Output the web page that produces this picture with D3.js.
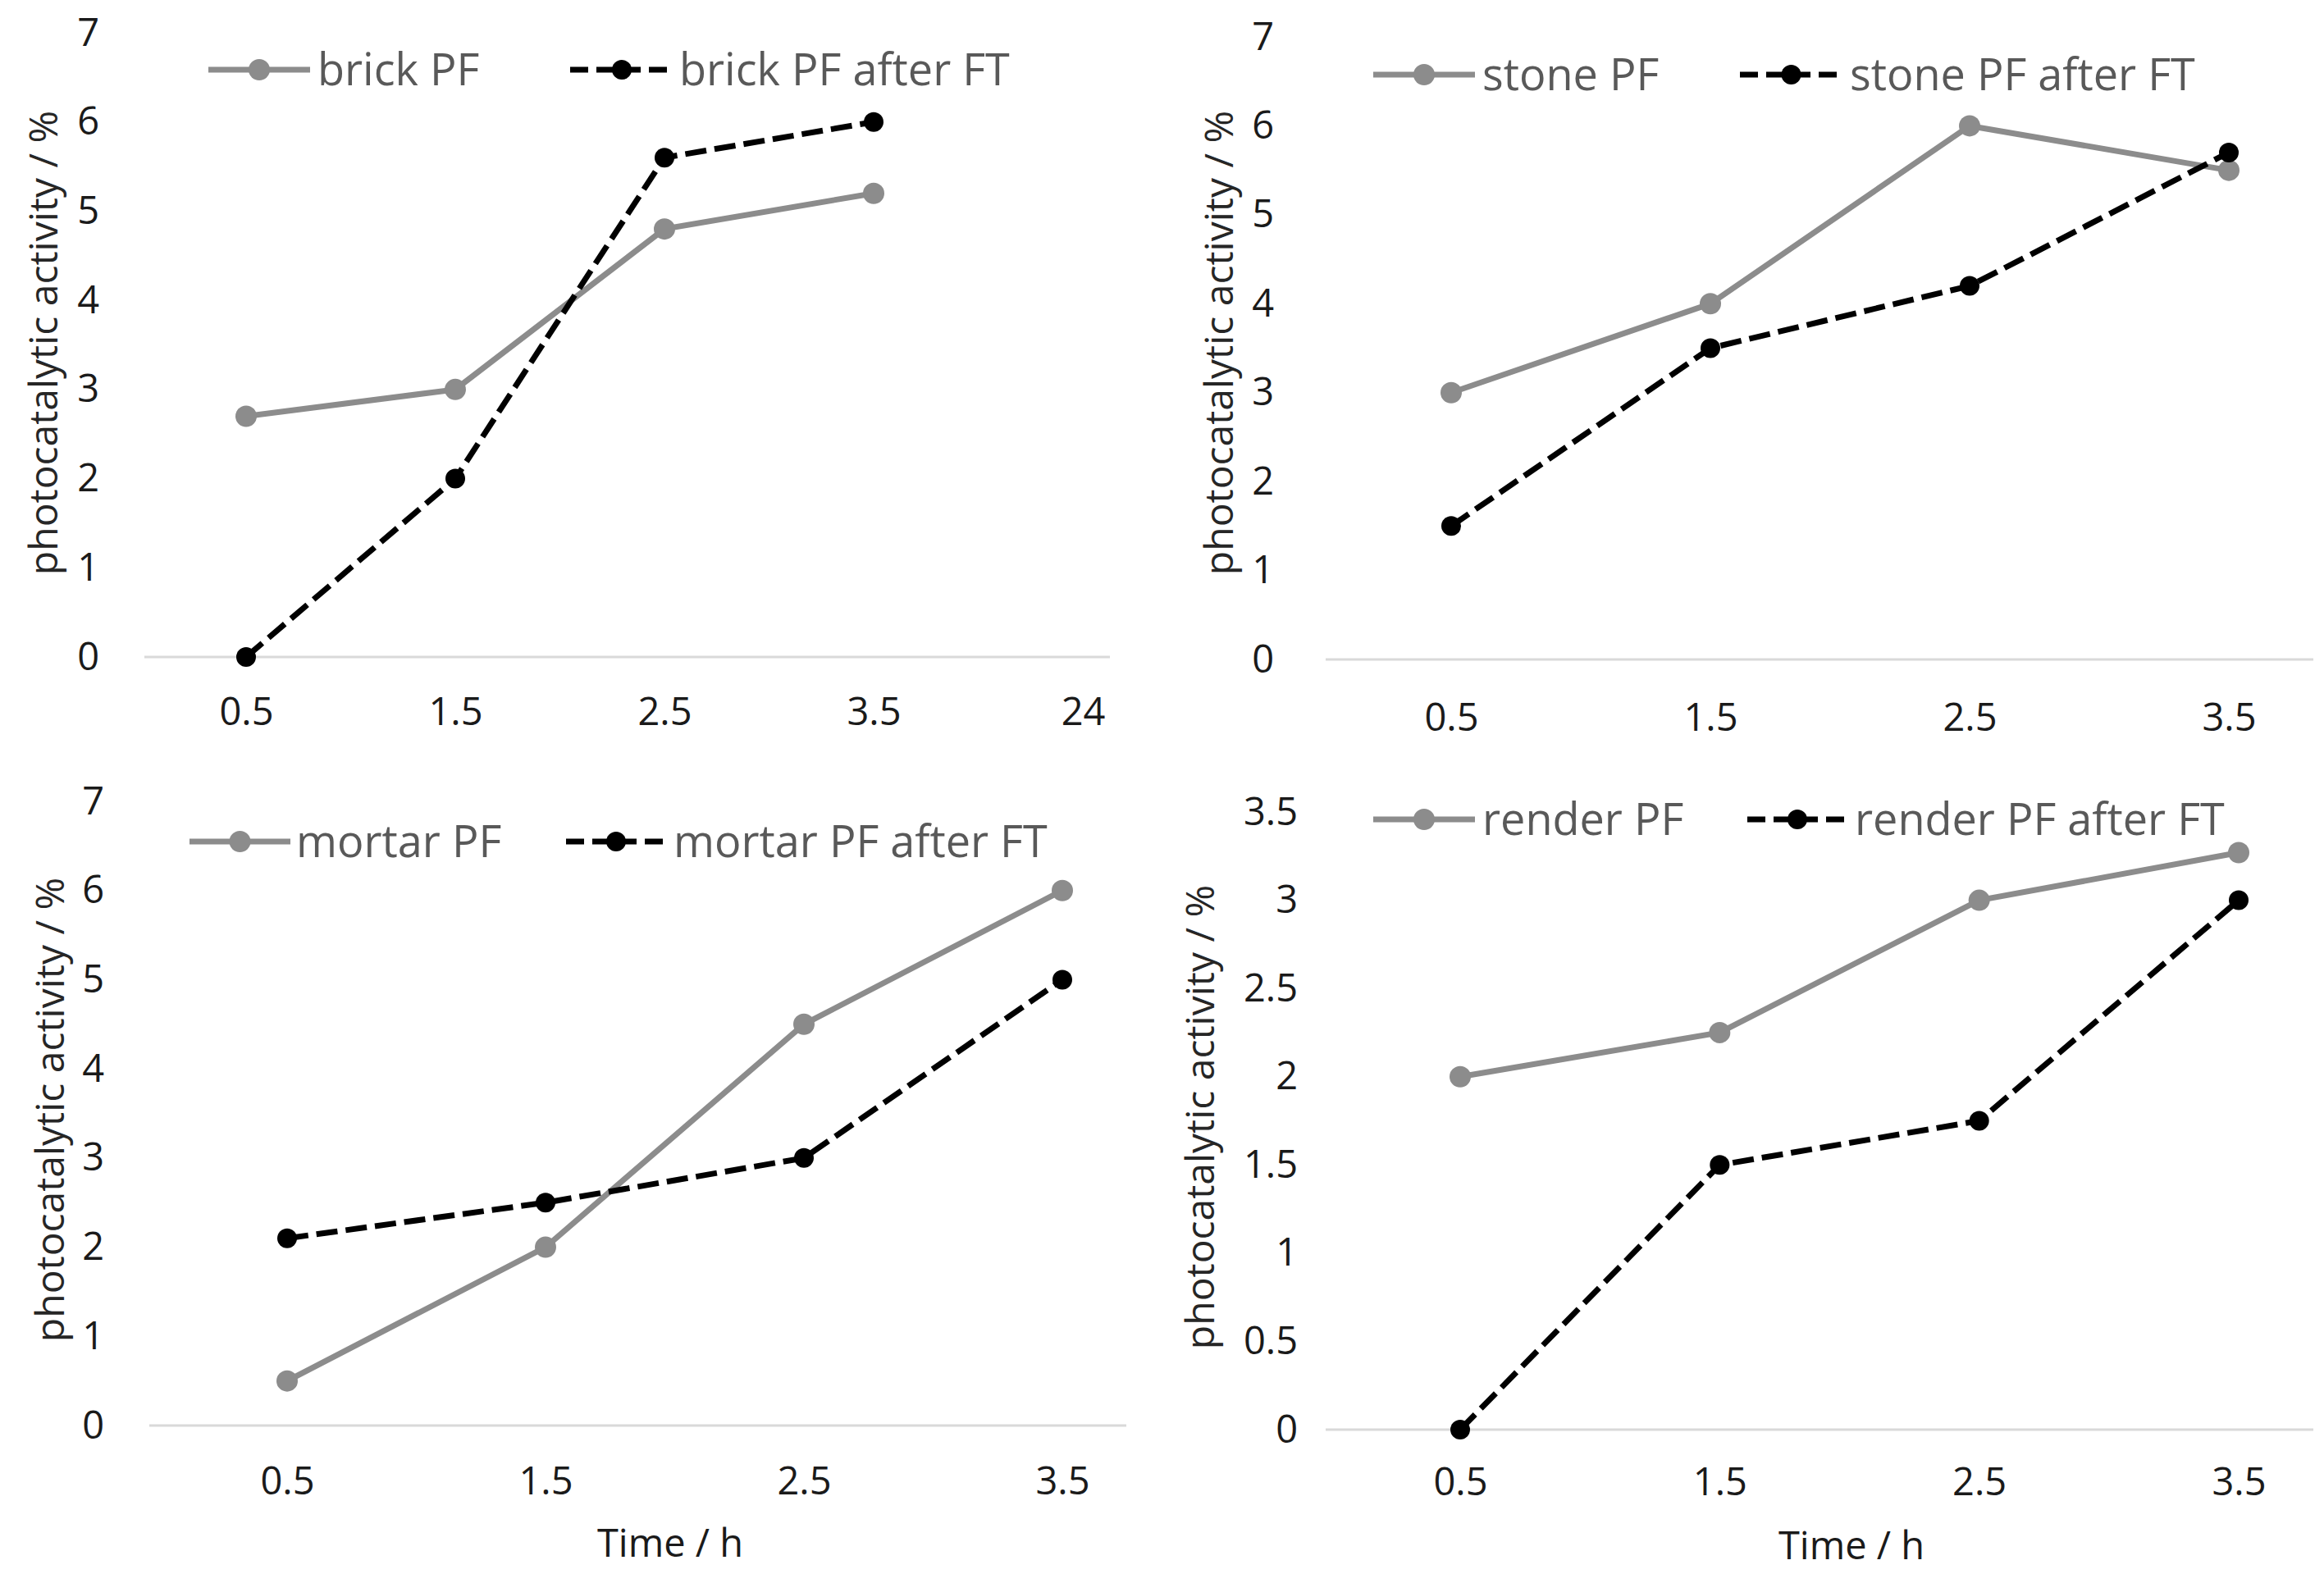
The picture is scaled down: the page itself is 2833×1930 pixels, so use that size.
<!DOCTYPE html>
<html>
<head>
<meta charset="utf-8">
<script src="https://cdn.jsdelivr.net/npm/d3@7"></script>
<style>
  body { margin: 0; background: #fff; }
  text { font-family: "Open Sans", sans-serif; }
</style>
</head>
<body>
<div id="chart"></div>
<script>
// categories
var timesBrick = ["0.5", "1.5", "2.5", "3.5", "24"];
var times = ["0.5", "1.5", "2.5", "3.5"];

// series values
var brickPF = [2.7, 3.0, 4.8, 5.2];
var brickFT = [0, 2.0, 5.6, 6.0];
var stonePF = [3.0, 4.0, 6.0, 5.5];
var stoneFT = [1.5, 3.5, 4.2, 5.7];
var mortarPF = [0.5, 2.0, 4.5, 6.0];
var mortarFT = [2.1, 2.5, 3.0, 5.0];
var renderPF = [2.0, 2.25, 3.0, 3.27];
var renderFT = [0, 1.5, 1.75, 3.0];

// tick labels
var yTicks7 = [0, 1, 2, 3, 4, 5, 6, 7];
var yTicksRender = [0, 0.5, 1, 1.5, 2, 2.5, 3, 3.5];

var svgWidth = 2833;
var svgHeight = 1930;

var svg = d3.select("#chart")
  .append("svg")
  .attr("width", svgWidth)
  .attr("height", svgHeight);

var grey = "#8c8c8c";

// panel layout (pixels)
var panels = [
  { name: "brick", cats: timesBrick, pf: brickPF, ft: brickFT, ymax: 7, ticks: yTicks7,
    xr: [300, 1320], base: [176, 1353], yr: [801, 40], tickX: 121, xLabY: 867,
    legY: 85, leg: [254, 378, 387, 695, 821, 828], title: [70, 418], timeLab: null },
  { name: "stone", cats: times, pf: stonePF, ft: stoneFT, ymax: 7, ticks: yTicks7,
    xr: [1769, 2717], base: [1616, 2820], yr: [804, 45], tickX: 1553, xLabY: 874,
    legY: 91, leg: [1674, 1798, 1807, 2121, 2246, 2255], title: [1503, 418], timeLab: null },
  { name: "mortar", cats: times, pf: mortarPF, ft: mortarFT, ymax: 7, ticks: yTicks7,
    xr: [350, 1295], base: [182, 1373], yr: [1738, 977], tickX: 127, xLabY: 1805,
    legY: 1026, leg: [231, 354, 361, 690, 812, 821], title: [78, 1353], timeLab: [817, 1882] },
  { name: "render", cats: times, pf: renderPF, ft: renderFT, ymax: 3.5, ticks: yTicksRender,
    xr: [1780, 2729], base: [1616, 2820], yr: [1743, 990], tickX: 1582, xLabY: 1806,
    legY: 999, leg: [1674, 1798, 1807, 2130, 2252, 2261], title: [1480, 1362], timeLab: [2257, 1885] }
];

panels.forEach(function(p) {
  var g = svg.append("g").attr("class", "panel-" + p.name);

  var xScale = d3.scalePoint().domain(p.cats).range(p.xr);
  var yScale = d3.scaleLinear().domain([0, p.ymax]).range(p.yr);

  // baseline
  g.append("line")
    .attr("x1", p.base[0]).attr("x2", p.base[1])
    .attr("y1", yScale(0)).attr("y2", yScale(0))
    .attr("stroke", "#d9d9d9")
    .attr("stroke-width", 3);

  // y tick labels
  var leftAxis = d3.axisLeft(yScale).tickValues(p.ticks).tickSize(0).tickPadding(0)
    .tickFormat(d3.format("~g"));
  var yAx = g.append("g")
    .attr("transform", "translate(" + p.tickX + ",0)")
    .call(leftAxis);
  yAx.select(".domain").remove();
  yAx.selectAll("text")
    .attr("text-anchor", "end")
    .attr("font-size", 47)
    .attr("font-family", "Open Sans")
    .attr("fill", "#1a1a1a");

  // x tick labels
  var bottomAxis = d3.axisBottom(xScale).tickSize(0).tickPadding(0);
  var xAx = g.append("g")
    .attr("transform", "translate(0," + p.xLabY + ")")
    .call(bottomAxis);
  xAx.select(".domain").remove();
  xAx.selectAll("text")
    .attr("y", 0)
    .attr("dy", "0.36em")
    .attr("font-size", 47)
    .attr("font-family", "Open Sans")
    .attr("fill", "#1a1a1a");

  // y title (baseline on the right side after rotation)
  g.append("text")
    .attr("transform", "translate(" + p.title[0] + "," + p.title[1] + ") rotate(-90)")
    .attr("text-anchor", "middle")
    .attr("font-size", 48)
    .attr("fill", "#262626")
    .text("photocatalytic activity / %");

  if (p.timeLab) {
    g.append("text")
      .attr("x", p.timeLab[0]).attr("y", p.timeLab[1])
      .attr("text-anchor", "middle")
      .attr("dy", "0.35em")
      .attr("font-size", 47)
      .attr("fill", "#1a1a1a")
      .text("Time / h");
  }

  var line = d3.line()
    .x(function(d, i) { return xScale(p.cats[i]); })
    .y(function(d) { return yScale(d); });

  // PF series (solid grey)
  g.append("path")
    .datum(p.pf)
    .attr("d", line)
    .attr("fill", "none")
    .attr("stroke", grey)
    .attr("stroke-width", 7);

  g.selectAll(".pf-dot")
    .data(p.pf)
    .enter()
    .append("circle")
    .attr("class", "pf-dot")
    .attr("cx", function(d, i) { return xScale(p.cats[i]); })
    .attr("cy", function(d) { return yScale(d); })
    .attr("r", 13)
    .attr("fill", grey);

  // after FT series (dashed black)
  g.append("path")
    .datum(p.ft)
    .attr("d", line)
    .attr("fill", "none")
    .attr("stroke", "#000")
    .attr("stroke-width", 7)
    .attr("stroke-dasharray", "26,10");

  g.selectAll(".ft-dot")
    .data(p.ft)
    .enter()
    .append("circle")
    .attr("class", "ft-dot")
    .attr("cx", function(d, i) { return xScale(p.cats[i]); })
    .attr("cy", function(d) { return yScale(d); })
    .attr("r", 12)
    .attr("fill", "#000");

  // legend
  var L = p.leg;
  g.append("line")
    .attr("x1", L[0]).attr("x2", L[1])
    .attr("y1", p.legY).attr("y2", p.legY)
    .attr("stroke", grey).attr("stroke-width", 7);
  g.append("circle")
    .attr("cx", (L[0] + L[1]) / 2).attr("cy", p.legY)
    .attr("r", 13).attr("fill", grey);
  g.append("text")
    .attr("x", L[2]).attr("y", p.legY)
    .attr("dy", "0.35em")
    .attr("font-size", 54)
    .attr("fill", "#595959")
    .text(p.name + " PF");

  g.append("line")
    .attr("x1", L[3]).attr("x2", L[4])
    .attr("y1", p.legY).attr("y2", p.legY)
    .attr("stroke", "#000").attr("stroke-width", 7)
    .attr("stroke-dasharray", "22,10");
  g.append("circle")
    .attr("cx", (L[3] + L[4]) / 2).attr("cy", p.legY)
    .attr("r", 12).attr("fill", "#000");
  g.append("text")
    .attr("x", L[5]).attr("y", p.legY)
    .attr("dy", "0.35em")
    .attr("font-size", 54)
    .attr("fill", "#595959")
    .text(p.name + " PF after FT");
});
</script>
</body>
</html>
